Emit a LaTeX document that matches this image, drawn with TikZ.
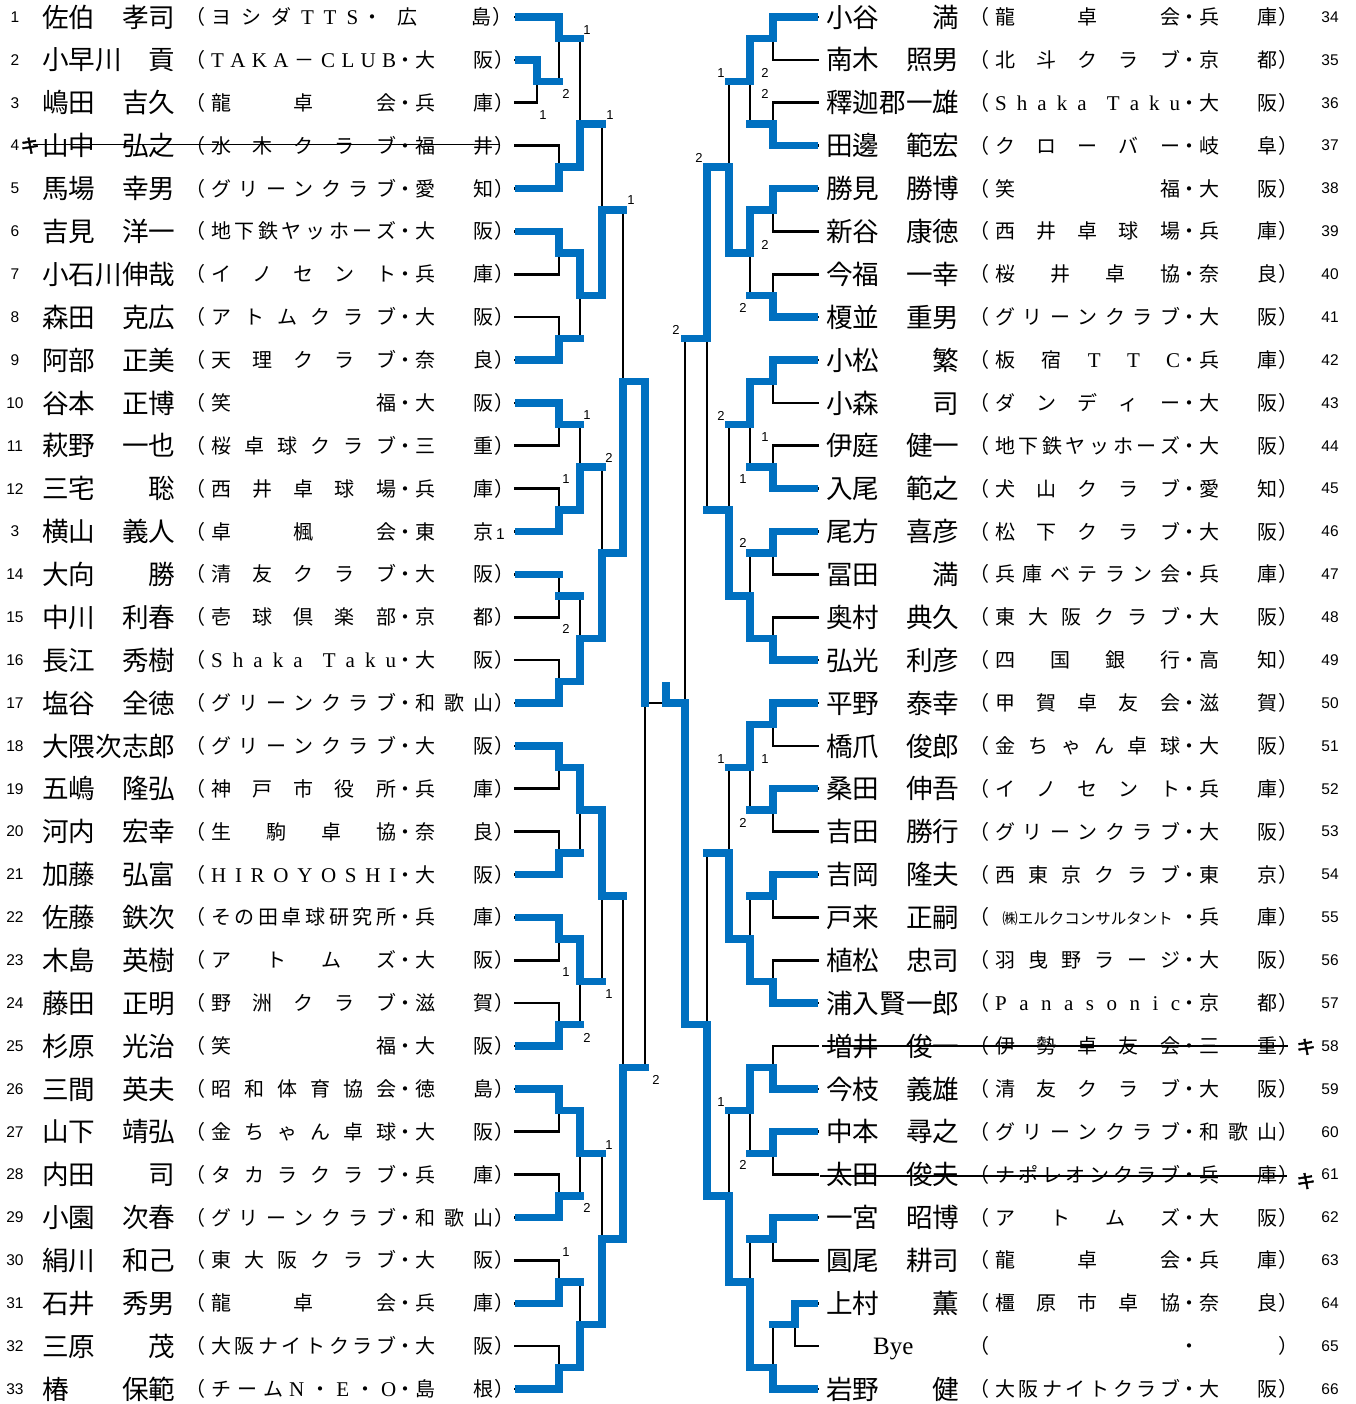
\documentclass[tikz,border=0pt]{standalone}
\usepackage{fontspec}
\setmainfont{Liberation Serif}
\newfontfamily\jp{Noto Sans CJK JP}
\newfontfamily\jpb[FakeBold=2.5]{Noto Sans CJK JP}
\newfontfamily\latf{Liberation Serif}
\newfontfamily\numff{Liberation Sans}
\definecolor{brk}{RGB}{0,112,192}
\newcommand\namefont{\jp\fontsize{26.6}{28}\selectfont}
\newcommand\clubfont{\jp\fontsize{20}{22}\selectfont}
\newcommand\numfont{\numff\fontsize{15.5}{17}\selectfont}
\newcommand\scfont{\numff\fontsize{13}{14}\selectfont}
\newcommand\latc{\latf\fontsize{21}{22}\selectfont}
\def\gobbleone#1{}
\def\sprA#1#2{#1\ifx\relax#2\expandafter\gobbleone\else\hfill\expandafter\sprA\fi#2}
\newcommand\spr[1]{\sprA#1\relax}
\newcommand\clubbox[2]{\makebox[26pt][l]{（}\makebox[185pt][s]{#1}\makebox[19pt][c]{・}\makebox[78pt][s]{#2}\makebox[10pt][l]{\hspace{1pt}）}}
\tikzset{
 bk/.style={line width=2.7pt, line cap=rect},
 bw/.style={line width=7.4pt, draw=brk, line cap=rect, line join=miter},
 numst/.style={inner sep=0pt, font=\numfont},
 namest/.style={anchor=base west, inner sep=0pt, font=\namefont},
 clubst/.style={anchor=base west, inner sep=0pt, font=\clubfont},
 scorelab/.style={inner sep=0pt, font=\scfont},
 strike/.style={line width=1.3pt},
 kimark/.style={inner sep=0pt, font=\jpb\fontsize{19}{20}\selectfont},
}
\newcommand\Lrow[5]{%
 \node[numst] (L#1n) at (15,#1) {#2};
 \node[namest] (L#1m) at (42,#1+0.236) {#3};
 \node[clubst] (L#1c) at (185,#1+0.177) {\clubbox{#4}{#5}};}
\newcommand\Rrow[5]{%
 \node[numst] (R#1n) at (1330,#1) {#2};
 \node[namest] (R#1m) at (826,#1+0.236) {#3};
 \node[clubst] (R#1c) at (969,#1+0.177) {\clubbox{#4}{#5}};}
\begin{document}
\begin{tikzpicture}[x=1pt,y=-42.875pt]
\fill[white] (0,-0.3965) rectangle (1356,32.3499);
\useasboundingbox (0,-0.3965) rectangle (1356,32.3499);

% ---------- left texts ----------
\node[numst] (L0n) at (15,0) {1};
\node[namest] (L0m) at (42,0.236) {佐伯　孝司};
\node[clubst] (L0c) at (185,0.177) {\makebox[26pt][l]{（}\makebox[147pt][s]{\spr{ヨシダ}\hfill{\latc\spr{TTS}}}\makebox[28pt][c]{・}\hspace{11pt}\makebox[94pt][s]{\spr{広島}}\makebox[10pt][l]{\hspace{1pt}）}};
\Lrow{1}{2}{小早川　貢}{{\latc\spr{TAKA}}\hfill －\hfill{\latc\spr{CLUB}}}{\spr{大阪}}
\Lrow{2}{3}{嶋田　吉久}{\spr{龍卓会}}{\spr{兵庫}}
\Lrow{3}{4}{山中　弘之}{\spr{水木クラブ}}{\spr{福井}}
\Lrow{4}{5}{馬場　幸男}{\spr{グリーンクラブ}}{\spr{愛知}}
\Lrow{5}{6}{吉見　洋一}{\spr{地下鉄ヤッホーズ}}{\spr{大阪}}
\Lrow{6}{7}{小石川伸哉}{\spr{イノセント}}{\spr{兵庫}}
\Lrow{7}{8}{森田　克広}{\spr{アトムクラブ}}{\spr{大阪}}
\Lrow{8}{9}{阿部　正美}{\spr{天理クラブ}}{\spr{奈良}}
\Lrow{9}{10}{谷本　正博}{\spr{笑福}}{\spr{大阪}}
\Lrow{10}{11}{萩野　一也}{\spr{桜卓球クラブ}}{\spr{三重}}
\Lrow{11}{12}{三宅　　聡}{\spr{西井卓球場}}{\spr{兵庫}}
\node[numst] (L12n) at (15,12) {3};
\node[namest] (L12m) at (42,12.236) {横山　義人};
\node[clubst] (L12c) at (185,12.177) {\makebox[26pt][l]{（}\makebox[185pt][s]{\spr{卓楓会}}\makebox[19pt][c]{・}\makebox[78pt][s]{\spr{東京}}\makebox[12pt][l]{\hspace{3pt}\numfont 1}};
\Lrow{13}{14}{大向　　勝}{\spr{清友クラブ}}{\spr{大阪}}
\Lrow{14}{15}{中川　利春}{\spr{壱球倶楽部}}{\spr{京都}}
\Lrow{15}{16}{長江　秀樹}{{\latc\spr{Shaka}}\hfill\hfill{\latc\spr{Taku}}}{\spr{大阪}}
\Lrow{16}{17}{塩谷　全徳}{\spr{グリーンクラブ}}{\spr{和歌山}}
\Lrow{17}{18}{大隈次志郎}{\spr{グリーンクラブ}}{\spr{大阪}}
\Lrow{18}{19}{五嶋　隆弘}{\spr{神戸市役所}}{\spr{兵庫}}
\Lrow{19}{20}{河内　宏幸}{\spr{生駒卓協}}{\spr{奈良}}
\Lrow{20}{21}{加藤　弘富}{{\latc\spr{HIROYOSHI}}}{\spr{大阪}}
\Lrow{21}{22}{佐藤　鉄次}{\spr{その田卓球研究所}}{\spr{兵庫}}
\Lrow{22}{23}{木島　英樹}{\spr{アトムズ}}{\spr{大阪}}
\Lrow{23}{24}{藤田　正明}{\spr{野洲クラブ}}{\spr{滋賀}}
\Lrow{24}{25}{杉原　光治}{\spr{笑福}}{\spr{大阪}}
\Lrow{25}{26}{三間　英夫}{\spr{昭和体育協会}}{\spr{徳島}}
\Lrow{26}{27}{山下　靖弘}{\spr{金ちゃん卓球}}{\spr{大阪}}
\Lrow{27}{28}{内田　　司}{\spr{タカラクラブ}}{\spr{兵庫}}
\Lrow{28}{29}{小園　次春}{\spr{グリーンクラブ}}{\spr{和歌山}}
\Lrow{29}{30}{絹川　和己}{\spr{東大阪クラブ}}{\spr{大阪}}
\Lrow{30}{31}{石井　秀男}{\spr{龍卓会}}{\spr{兵庫}}
\Lrow{31}{32}{三原　　茂}{\spr{大阪ナイトクラブ}}{\spr{大阪}}
\Lrow{32}{33}{椿　　保範}{\spr{チーム}\hfill{\latc N}\hfill ・\hfill{\latc E}\hfill ・\hfill{\latc O}}{\spr{島根}}
\node[kimark] (L3k) at (30,3) {キ};
\draw[strike] (33,2.97) -- (500,2.97);

% ---------- right texts ----------
\Rrow{0}{34}{小谷　　満}{\spr{龍卓会}}{\spr{兵庫}}
\Rrow{1}{35}{南木　照男}{\spr{北斗クラブ}}{\spr{京都}}
\Rrow{2}{36}{釋迦郡一雄}{{\latc\spr{Shaka}}\hfill\hfill{\latc\spr{Taku}}}{\spr{大阪}}
\Rrow{3}{37}{田邊　範宏}{\spr{クローバー}}{\spr{岐阜}}
\Rrow{4}{38}{勝見　勝博}{\spr{笑福}}{\spr{大阪}}
\Rrow{5}{39}{新谷　康徳}{\spr{西井卓球場}}{\spr{兵庫}}
\Rrow{6}{40}{今福　一幸}{\spr{桜井卓協}}{\spr{奈良}}
\Rrow{7}{41}{榎並　重男}{\spr{グリーンクラブ}}{\spr{大阪}}
\Rrow{8}{42}{小松　　繁}{\spr{板宿}\hfill{\latc\spr{TTC}}}{\spr{兵庫}}
\Rrow{9}{43}{小森　　司}{\spr{ダンディー}}{\spr{大阪}}
\Rrow{10}{44}{伊庭　健一}{\spr{地下鉄ヤッホーズ}}{\spr{大阪}}
\Rrow{11}{45}{入尾　範之}{\spr{犬山クラブ}}{\spr{愛知}}
\Rrow{12}{46}{尾方　喜彦}{\spr{松下クラブ}}{\spr{大阪}}
\Rrow{13}{47}{冨田　　満}{\spr{兵庫ベテラン会}}{\spr{兵庫}}
\Rrow{14}{48}{奥村　典久}{\spr{東大阪クラブ}}{\spr{大阪}}
\Rrow{15}{49}{弘光　利彦}{\spr{四国銀行}}{\spr{高知}}
\Rrow{16}{50}{平野　泰幸}{\spr{甲賀卓友会}}{\spr{滋賀}}
\Rrow{17}{51}{橋爪　俊郎}{\spr{金ちゃん卓球}}{\spr{大阪}}
\Rrow{18}{52}{桑田　伸吾}{\spr{イノセント}}{\spr{兵庫}}
\Rrow{19}{53}{吉田　勝行}{\spr{グリーンクラブ}}{\spr{大阪}}
\Rrow{20}{54}{吉岡　隆夫}{\spr{西東京クラブ}}{\spr{東京}}
\Rrow{21}{55}{戸来　正嗣}{\hfill{\fontsize{15.5}{16}\selectfont ㈱エルクコンサルタント}\hfill}{\spr{兵庫}}
\Rrow{22}{56}{植松　忠司}{\spr{羽曳野ラージ}}{\spr{大阪}}
\Rrow{23}{57}{浦入賢一郎}{{\latc\spr{Panasonic}}}{\spr{京都}}
\Rrow{24}{58}{増井　俊一}{\spr{伊勢卓友会}}{\spr{三重}}
\Rrow{25}{59}{今枝　義雄}{\spr{清友クラブ}}{\spr{大阪}}
\Rrow{26}{60}{中本　尋之}{\spr{グリーンクラブ}}{\spr{和歌山}}
\Rrow{27}{61}{太田　俊夫}{\spr{ナポレオンクラブ}}{\spr{兵庫}}
\Rrow{28}{62}{一宮　昭博}{\spr{アトムズ}}{\spr{大阪}}
\Rrow{29}{63}{圓尾　耕司}{\spr{龍卓会}}{\spr{兵庫}}
\Rrow{30}{64}{上村　　薫}{\spr{橿原市卓協}}{\spr{奈良}}
\Rrow{31}{65}{}{\hfill}{\hfill}
\node[anchor=base west, inner sep=0pt, font=\latf\fontsize{25}{26}\selectfont] (R31b) at (873,31.19) {Bye};
\Rrow{32}{66}{岩野　　健}{\spr{大阪ナイトクラブ}}{\spr{大阪}}
\draw[strike] (822,24) -- (1288,24);
\node[kimark] (R24k) at (1306,24.02) {キ};
\draw[strike] (820,27.03) -- (1287,27.03);
\node[kimark] (R27k) at (1306,27.15) {キ};

% ---------- left bracket (black) ----------
\foreach \k in {0,3,4,...,32} {\draw[bk] (515,\k) -- (559,\k);}
\foreach \k in {1,2} {\draw[bk] (515,\k) -- (537,\k);}
\draw[bk] (537,1) -- (537,2) (537,1.5) -- (559,1.5);
\draw[bk] (559,0) -- (559,1.5) (559,0.5) -- (580,0.5);
\foreach \i in {2,...,16} {\draw[bk] (559,{2*\i-1}) -- (559,{2*\i}) (559,{2*\i-0.5}) -- (580,{2*\i-0.5});}
\draw[bk] (580,0.5) -- (580,3.5);
\foreach \j in {2,...,8} {\draw[bk] (580,{4*\j-2.5}) -- (580,{4*\j-0.5});}
\foreach \j in {1,...,8} {\draw[bk] (580,{4*\j-1.5}) -- (602,{4*\j-1.5});}
\foreach \k in {1,...,4} {\draw[bk] (602,{8*\k-5.5}) -- (602,{8*\k-1.5}) (602,{8*\k-3.5}) -- (623,{8*\k-3.5});}
\foreach \l in {1,2} {\draw[bk] (623,{16*\l-11.5}) -- (623,{16*\l-3.5}) (623,{16*\l-7.5}) -- (645,{16*\l-7.5});}
\draw[bk] (645,8.5) -- (645,24.5) (645,16) -- (666,16);

% ---------- right bracket (black) ----------
\foreach \k in {0,...,29,32} {\draw[bk] (818,\k) -- (773,\k);}
\foreach \k in {30,31} {\draw[bk] (818,\k) -- (795,\k);}
\draw[bk] (795,30) -- (795,31) (795,30.5) -- (773,30.5);
\foreach \i in {1,...,15} {\draw[bk] (773,{2*\i-2}) -- (773,{2*\i-1}) (773,{2*\i-1.5}) -- (750,{2*\i-1.5});}
\draw[bk] (773,30.5) -- (773,32) (773,31.5) -- (750,31.5);
\foreach \j in {1,...,7} {\draw[bk] (750,{4*\j-3.5}) -- (750,{4*\j-1.5});}
\draw[bk] (750,28.5) -- (750,31.5);
\foreach \j in {1,...,8} {\draw[bk] (750,{4*\j-2.5}) -- (729,{4*\j-2.5});}
\foreach \k in {1,...,4} {\draw[bk] (729,{8*\k-6.5}) -- (729,{8*\k-2.5}) (729,{8*\k-4.5}) -- (707,{8*\k-4.5});}
\foreach \l in {1,2} {\draw[bk] (707,{16*\l-12.5}) -- (707,{16*\l-4.5}) (707,{16*\l-8.5}) -- (685,{16*\l-8.5});}
\draw[bk] (685,7.5) -- (685,23.5);

% ---------- left winners (blue) ----------
\draw[bw] (518.6,0) -- (559,0) -- (559,0.5) -- (580,0.5);
\draw[bw] (518.6,1) -- (537,1) -- (537,1.5) -- (559,1.5);
\draw[bw] (518.6,4) -- (559,4) -- (559,3.5) -- (580,3.5) -- (580,2.5) -- (602,2.5);
\draw[bw] (518.6,5) -- (559,5) -- (559,5.5) -- (580,5.5) -- (580,6.5) -- (602,6.5) -- (602,4.5) -- (623,4.5);
\draw[bw] (518.6,8) -- (559,8) -- (559,7.5) -- (580,7.5);
\draw[bw] (518.6,9) -- (559,9) -- (559,9.5) -- (580,9.5);
\draw[bw] (518.6,12) -- (559,12) -- (559,11.5) -- (580,11.5) -- (580,10.5) -- (602,10.5);
\draw[bw] (518.6,13) -- (559,13);
\draw[bw] (559,13.5) -- (580,13.5);
\draw[bw] (518.6,16) -- (559,16) -- (559,15.5) -- (580,15.5) -- (580,14.5) -- (602,14.5) -- (602,12.5) -- (623,12.5) -- (623,8.5) -- (645,8.5) -- (645,16);
\draw[bw] (518.6,17) -- (559,17) -- (559,17.5) -- (580,17.5) -- (580,18.5) -- (602,18.5) -- (602,20.5) -- (623,20.5);
\draw[bw] (518.6,20) -- (559,20) -- (559,19.5) -- (580,19.5);
\draw[bw] (518.6,21) -- (559,21) -- (559,21.5) -- (580,21.5) -- (580,22.5) -- (602,22.5);
\draw[bw] (518.6,24) -- (559,24) -- (559,23.5) -- (580,23.5);
\draw[bw] (518.6,25) -- (559,25) -- (559,25.5) -- (580,25.5) -- (580,26.5) -- (602,26.5);
\draw[bw] (518.6,28) -- (559,28) -- (559,27.5) -- (580,27.5);
\draw[bw] (518.6,30) -- (559,30) -- (559,29.5) -- (580,29.5);
\draw[bw] (518.6,32) -- (559,32) -- (559,31.5) -- (580,31.5) -- (580,30.5) -- (602,30.5) -- (602,28.5) -- (623,28.5) -- (623,24.5) -- (645,24.5);

% ---------- right winners (blue) ----------
\draw[bw] (814.4,0) -- (773,0) -- (773,0.5) -- (750,0.5) -- (750,1.5) -- (729,1.5);
\draw[bw] (814.4,3) -- (773,3) -- (773,2.5) -- (750,2.5);
\draw[bw] (814.4,4) -- (773,4) -- (773,4.5) -- (750,4.5) -- (750,5.5) -- (729,5.5) -- (729,3.5) -- (707,3.5) -- (707,7.5) -- (685,7.5);
\draw[bw] (814.4,7) -- (773,7) -- (773,6.5) -- (750,6.5);
\draw[bw] (814.4,8) -- (773,8) -- (773,8.5) -- (750,8.5) -- (750,9.5) -- (729,9.5);
\draw[bw] (814.4,11) -- (773,11) -- (773,10.5) -- (750,10.5);
\draw[bw] (814.4,12) -- (773,12) -- (773,12.5) -- (750,12.5);
\draw[bw] (814.4,15) -- (773,15) -- (773,14.5) -- (750,14.5) -- (750,13.5) -- (729,13.5) -- (729,11.5) -- (707,11.5);
\draw[bw] (814.4,16) -- (773,16) -- (773,16.5) -- (750,16.5) -- (750,17.5) -- (729,17.5);
\draw[bw] (814.4,18) -- (773,18) -- (773,18.5) -- (750,18.5);
\draw[bw] (814.4,20) -- (773,20) -- (773,20.5) -- (750,20.5);
\draw[bw] (814.4,23) -- (773,23) -- (773,22.5) -- (750,22.5) -- (750,21.5) -- (729,21.5) -- (729,19.5) -- (707,19.5);
\draw[bw] (814.4,25) -- (773,25) -- (773,24.5) -- (750,24.5) -- (750,25.5) -- (729,25.5);
\draw[bw] (814.4,26) -- (773,26) -- (773,26.5) -- (750,26.5);
\draw[bw] (814.4,28) -- (773,28) -- (773,28.5) -- (750,28.5);
\draw[bw] (814.4,30) -- (795,30) -- (795,30.5) -- (773,30.5);
\draw[bw] (814.4,32) -- (773,32) -- (773,31.5) -- (750,31.5) -- (750,29.5) -- (729,29.5) -- (729,27.5) -- (707,27.5) -- (707,23.5) -- (685,23.5) -- (685,16) -- (666,16) -- (666,15.6);

% ---------- score labels ----------
\foreach \x/\y/\t in {587/0.303/1, 566/1.796/2, 543/2.286/1, 610/2.286/1, 631/4.268/1,
  587/9.283/1, 609/10.286/2, 566/10.776/1, 566/14.274/2, 566/22.274/1, 609/22.787/1,
  587/23.813/2, 656/24.793/2, 609/26.309/1, 587/27.778/2, 566/28.805/1,
  721/1.306/1, 765/1.306/2, 765/1.796/2, 699/3.289/2, 765/5.318/2, 743/6.787/2,
  676/7.300/2, 721/9.306/2, 765/9.796/1, 743/10.776/1, 743/12.268/2,
  721/17.306/1, 765/17.306/1, 743/18.799/2, 721/25.306/1, 743/26.776/2}
  {\node[scorelab] at (\x,\y) {\t};}
\end{tikzpicture}
\end{document}
